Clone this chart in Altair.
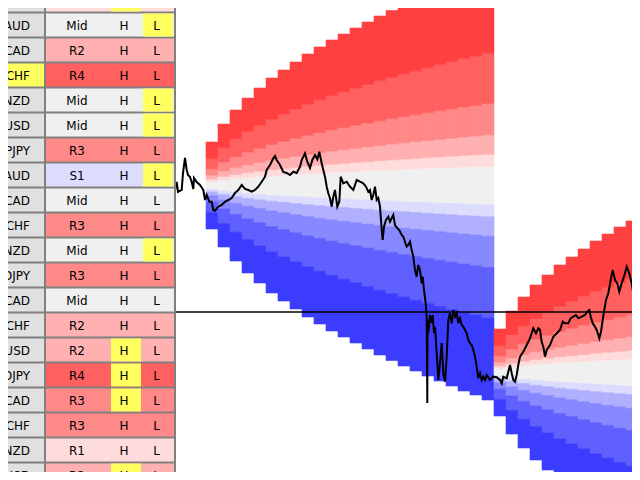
import altair as alt
import pandas as pd

# ---------------- table data ----------------
pairs = ["EURGBP", "EURAUD", "EURCAD", "EURCHF", "EURNZD", "GBPUSD", "GBPJPY",
         "GBPAUD", "GBPCAD", "GBPCHF", "GBPNZD", "USDJPY", "USDCAD", "USDCHF",
         "AUDUSD", "AUDJPY", "AUDCAD", "AUDCHF", "AUDNZD", "NZDUSD"]
zones = ["R1", "Mid", "R2", "R4", "Mid", "Mid", "R3", "S1", "Mid", "R3",
         "Mid", "R3", "Mid", "R2", "R2", "R4", "R3", "R3", "R1", "R2"]
pair_marked = [3]
high_marked = [0, 14, 15, 16, 19]
low_marked = [1, 4, 5, 7, 10]

zone_names = ["R5", "R4", "R3", "R2", "R1", "Mid", "S1", "S2", "S3", "S4", "S5"]
zone_colors = ["#ff4040", "#ff6060", "#ff8888", "#ffb0b0", "#ffdcdc", "#f0f0f0",
               "#dcdcff", "#b0b0ff", "#8888ff", "#6060ff", "#3c3cff"]

# ---------------- fan (projection cone) data ----------------
fan_centers = [185.5, 372.5]
fan_starts = [206, 494]
fan_columns = [24, 13]
col_step = 12
half_widths = [43.5, 61.5, 75.5, 87.5, 97.5, 107.5, 115.5, 123.5, 131.5, 138.5,
               145.5, 151.5, 157.5, 163.5, 169.5, 175, 180.5, 185.5, 190.5,
               195.5, 200.5, 205.5, 209.5, 214.5]
band_ratios = [0.09, 0.146, 0.236, 0.382, 0.618, 1.0]

# ---------------- price path ----------------
price_x = [175, 176.7, 178, 181.7, 183, 185, 186.7, 188, 190, 191.7, 193.3, 194,
           196.7, 200, 203.3, 205, 206.7, 209.3, 211.7, 213.3, 215, 218.3, 221.7,
           225, 228.3, 231.7, 235, 238.3, 241.7, 245, 248.3, 251.7, 255, 258.3,
           261.7, 265, 266.7, 270, 273.3, 275, 276.7, 280, 283.3, 286.7, 290,
           293.3, 296.7, 300, 301.7, 305, 307.3, 310, 312.3, 315, 317.3, 319.3,
           321.7, 323.3, 325, 326.7, 328.3, 330, 331.7, 333.3, 335, 337.3, 339.3,
           340.7, 343.3, 346.7, 350, 353.3, 356.7, 360, 363.3, 366, 368.3, 370,
           371.7, 373.3, 375, 376.7, 378.3, 380, 381.7, 382.7, 384, 386, 388.3,
           390, 391.7, 393.3, 395, 397.3, 399.3, 401.7, 403.3, 405, 406.7, 408.3,
           410, 411.7, 413.3, 415, 416.7, 418.3, 420, 421.7, 422.7, 424, 425.7,
           426.7, 427.3, 427.6, 428.3, 430, 431.7, 432.7, 434, 435, 436.7, 438.3,
           440, 441.7, 443.3, 445, 446.7, 448.3, 450, 451.7, 453.3, 455, 456.7,
           458.3, 460, 461.7, 463.3, 465, 466.7, 468.3, 470, 471.7, 473.3, 475,
           476.7, 478.3, 480, 481.7, 483.3, 485, 486.7, 490, 493.3, 496.7, 500,
           501.7, 503.3, 506.7, 508.3, 510, 511.7, 513.3, 515, 516.7, 518.3, 520,
           523.3, 526.7, 530, 533.3, 536, 538.3, 540, 541.7, 543.3, 545, 546.7,
           550, 553.3, 556.7, 560, 562.7, 565, 568.3, 570.7, 573.3, 576, 578.3,
           581.7, 585, 587.3, 589.3, 590.7, 592.7, 595, 596.7, 599.3, 601, 602.7,
           604, 606, 608.3, 610.7, 612.7, 615, 617.3, 619.3, 621.7, 624, 626.7,
           629.3, 631.7, 633.3, 635, 636.7, 638.3, 640]
price_y = [190, 182, 192, 190, 173, 158, 170, 175, 177, 182, 189, 178,
           182, 185, 190, 200, 195, 201.7, 201.7, 210, 210.7, 206.7, 205,
           201.7, 200, 198, 193, 190, 185, 189, 190, 191.7, 190, 186.7,
           181.7, 176.7, 170, 165, 158.3, 156, 160, 165, 172, 173, 175,
           171.7, 173, 166.7, 160, 153.3, 161.7, 168, 160, 155, 159.3, 151.7,
           163.3, 170, 176.7, 186.7, 193.3, 198.3, 206.7, 196.7, 190, 206.7, 201.7,
           176.7, 183.3, 181.7, 186.7, 190, 180, 181.7, 183.3, 186.7, 191.7, 190,
           200, 195, 186.7, 200, 198, 206.7, 230, 240, 226.7, 220, 216.7,
           221.7, 218.3, 215, 225, 228.3, 230, 235, 236.7, 241.7, 246.7, 245,
           241.7, 250, 256.7, 270, 276.7, 265, 270, 283.3, 276.7, 290, 303.3,
           316.7, 403, 320, 333, 315, 323, 315, 333, 326.7, 353, 380,
           363, 343, 373, 381.7, 356.7, 320, 313.3, 323.3, 310, 316.7, 313.3,
           323.3, 318.3, 325, 326.7, 330, 333.3, 340, 343.3, 345, 350, 356.7,
           366.7, 378.3, 373.3, 380, 376.7, 380, 375, 380, 376.7, 377.3, 380,
           383.3, 376.7, 378.3, 371.7, 365, 373.3, 380, 381.7, 375, 365, 356.7,
           351.7, 345, 338.3, 328.3, 333.3, 328.3, 330, 341.7, 346.7, 356.7, 350,
           345, 336.7, 333.3, 330, 321.7, 323.3, 323.3, 318.3, 316.7, 315, 318.3,
           316.7, 315, 311.7, 310, 316.7, 323.3, 326.7, 330, 338.3, 331.7, 320,
           311.7, 300, 293.3, 280, 270, 280, 283.3, 291.7, 283.3, 276.7, 266.7,
           273.3, 283.3, 293.3, 300, 306.7, 290, 293]
current_level = [312]

# ---------------- build tables ----------------
fan_rows = []
for f in range(len(fan_centers)):
    c = fan_centers[f]
    for i in range(fan_columns[f]):
        w = half_widths[i]
        xa = fan_starts[f] + i * col_step
        xb = xa + col_step
        fan_rows.append(dict(x0=xa, x1=xb, y0=c - band_ratios[0] * w,
                             y1=c + band_ratios[0] * w, band="Mid"))
        for k in range(1, 6):
            fan_rows.append(dict(x0=xa, x1=xb, y0=c - band_ratios[k] * w,
                                 y1=c - band_ratios[k - 1] * w, band=f"R{k}"))
            fan_rows.append(dict(x0=xa, x1=xb, y0=c + band_ratios[k - 1] * w,
                                 y1=c + band_ratios[k] * w, band=f"S{k}"))
fan_df = pd.DataFrame(fan_rows)

price_df = pd.DataFrame({"t": price_x, "p": price_y, "i": range(len(price_x))})

zone_color_map = dict(zip(zone_names, zone_colors))
YELLOW = "#ffff60"
tab_df = pd.DataFrame({
    "row": list(range(len(pairs))),
    "pair": pairs,
    "zone": zones,
    "name_fill": [YELLOW if r in pair_marked else "#e0e0e0" for r in range(len(pairs))],
    "zone_fill": [zone_color_map[z] for z in zones],
    "H": ["H"] * len(pairs),
    "L": ["L"] * len(pairs),
})
high_df = pd.DataFrame({"row": high_marked})
low_df = pd.DataFrame({"row": low_marked})

# ---------------- table chart ----------------
TW, H = 168, 464
row_y = alt.Y("row:O", axis=None,
              scale=alt.Scale(range=[-20.5, 479.5], paddingInner=0.08, paddingOuter=0.04,
                              domain=list(range(len(pairs)))))
base_t = alt.Chart(tab_df)
bg = alt.Chart(pd.DataFrame({"a": [0]})).mark_rect(color="#808080").encode(
    x=alt.value(0), x2=alt.value(TW), y=alt.value(0), y2=alt.value(H))
name_cells = base_t.mark_rect(clip=True).encode(
    x=alt.value(0), x2=alt.value(36), y=row_y, fill=alt.Fill("name_fill:N", scale=None))
zone_cells = base_t.mark_rect(clip=True).encode(
    x=alt.value(38), x2=alt.value(166), y=row_y, fill=alt.Fill("zone_fill:N", scale=None))
high_boxes = alt.Chart(high_df).mark_rect(clip=True, color=YELLOW).encode(
    x=alt.value(103), x2=alt.value(133), y=row_y)
low_boxes = alt.Chart(low_df).mark_rect(clip=True, color=YELLOW).encode(
    x=alt.value(135), x2=alt.value(165), y=row_y)
font = dict(font="DejaVu Sans", fontSize=12, color="#000000", baseline="middle", dy=1, clip=True)
name_text = base_t.mark_text(align="right", **font).encode(
    x=alt.value(22), y=row_y, text="pair:N")
zone_text = base_t.mark_text(align="center", **font).encode(
    x=alt.value(69), y=row_y, text="zone:N")
h_text = base_t.mark_text(align="center", **font).encode(
    x=alt.value(116), y=row_y, text="H:N")
l_text = base_t.mark_text(align="center", **font).encode(
    x=alt.value(148.5), y=row_y, text="L:N")

table = alt.layer(bg, name_cells, zone_cells, high_boxes, low_boxes,
                  name_text, zone_text, h_text, l_text).properties(width=TW, height=H)

# ---------------- main chart ----------------
MW = 456
sx = alt.Scale(domain=[176, 176 + MW], nice=False, zero=False)
sy = alt.Scale(domain=[8, 8 + H], reverse=True, nice=False, zero=False)
band_scale = alt.Scale(domain=zone_names, range=zone_colors)

fans = alt.Chart(fan_df).mark_rect(clip=True, strokeWidth=0.6).encode(
    x=alt.X("x0:Q", scale=sx, axis=None), x2="x1:Q",
    y=alt.Y("y0:Q", scale=sy, axis=None), y2="y1:Q",
    fill=alt.Fill("band:N", scale=band_scale, legend=None),
    stroke=alt.Stroke("band:N", scale=band_scale, legend=None))
rule = alt.Chart(pd.DataFrame({"level": current_level})).mark_rule(
    clip=True, color="#000000", strokeWidth=1.3).encode(
    y=alt.Y("level:Q", scale=sy, axis=None))
line = alt.Chart(price_df).mark_line(clip=True, color="#000000", strokeWidth=2).encode(
    x=alt.X("t:Q", scale=sx, axis=None), y=alt.Y("p:Q", scale=sy, axis=None),
    order="i:Q")

main = alt.layer(fans, rule, line).properties(width=MW, height=H)

chart = alt.hconcat(table, main, spacing=0).configure_view(stroke=None).properties(padding=0)
chart.save("out.html", embed_options={"renderer": "svg", "actions": False})
